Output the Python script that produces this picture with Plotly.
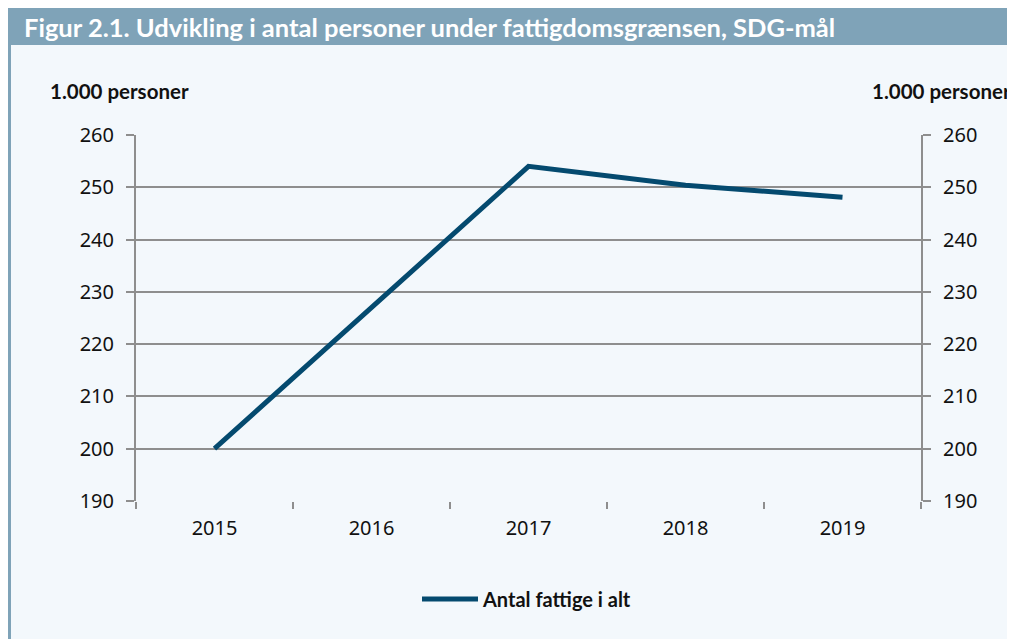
import plotly.graph_objects as go

years = ["2015", "2016", "2017", "2018", "2019"]
fattige = [200.0, 227.0, 254.0, 250.4, 248.1]
series_name = "Antal fattige i alt"
title = "Figur 2.1. Udvikling i antal personer under fattigdomsgrænsen, SDG-mål"
unit = "1.000 personer"

# page has an 8px body margin; reference coordinates below are page pixels
OFF = 8
PAGE_W, PAGE_H = 1015, 639
L, R, T, B = 136, 921, 135, 501
pw, ph = R - L, B - T

def px(x):
    return (x - L) / pw

def py(y):
    return (B - y) / ph

bg = "#F3F8FC"
bar = "#7FA3B8"
grid = "#8E8E8E"
line_c = "#044A6F"
font = "Lato"
tickfont = "Noto Sans"

fig = go.Figure()
fig.add_trace(go.Scatter(x=years, y=fattige, mode="lines", name=series_name,
                         line=dict(color=line_c, width=5), yaxis="y"))
fig.add_trace(go.Scatter(x=years, y=fattige, mode="lines", showlegend=False,
                         line=dict(color="rgba(0,0,0,0)", width=0), yaxis="y2",
                         hoverinfo="skip"))

axis_common = dict(range=[190, 260], dtick=10,
                   tickfont=dict(family=tickfont, size=20, color="#111"),
                   ticks="outside", ticklen=8, tickcolor=grid, tickwidth=2,
                   ticklabelstandoff=8,
                   showline=True, linecolor=grid, linewidth=2, zeroline=False)

fig.update_layout(
    width=PAGE_W - OFF, height=PAGE_H - OFF,
    margin=dict(l=L - OFF, r=PAGE_W - R, t=T - OFF, b=PAGE_H - B),
    paper_bgcolor=bg, plot_bgcolor=bg,
    font=dict(family=font, color="#111"),
    xaxis=dict(type="category", range=[-0.5, 4.5], tickson="boundaries", ticks="outside",
               ticklen=7, tickcolor=grid, tickwidth=2, showgrid=False,
               ticklabelstandoff=13,
               showline=False, tickfont=dict(family=tickfont, size=20, color="#111")),
    yaxis=dict(**axis_common, showgrid=True, gridcolor=grid, gridwidth=2),
    yaxis2=dict(**axis_common, overlaying="y", side="right", showgrid=False),
    legend=dict(orientation="h", x=px(527), xanchor="center", y=py(599), yanchor="middle",
                font=dict(family=font, size=20, color="#111", weight="bold"),
                itemwidth=56, bgcolor="rgba(0,0,0,0)"),
    showlegend=True,
)

fig.add_shape(type="rect", xref="paper", yref="paper",
              x0=px(7), x1=px(PAGE_W + 2), y0=py(45), y1=py(7), fillcolor=bar,
              line_width=0, layer="below")
fig.add_shape(type="rect", xref="paper", yref="paper",
              x0=px(7), x1=px(11), y0=py(PAGE_H + 2), y1=py(45), fillcolor=bar,
              line_width=0, layer="below")

fig.add_annotation(text=title, xref="paper", yref="paper", x=px(22), y=py(27),
                   xanchor="left", yanchor="middle", showarrow=False,
                   font=dict(family=font, size=25.5, color="white", weight="bold"))
fig.add_annotation(text=unit, xref="paper", yref="paper", x=px(48), y=py(91),
                   xanchor="left", yanchor="middle", showarrow=False,
                   font=dict(family=font, size=20.5, color="#111", weight="bold"))
fig.add_annotation(text=unit, xref="paper", yref="paper", x=px(870), y=py(91),
                   xanchor="left", yanchor="middle", showarrow=False,
                   font=dict(family=font, size=20.5, color="#111", weight="bold"))

fig.write_html("out.html")
